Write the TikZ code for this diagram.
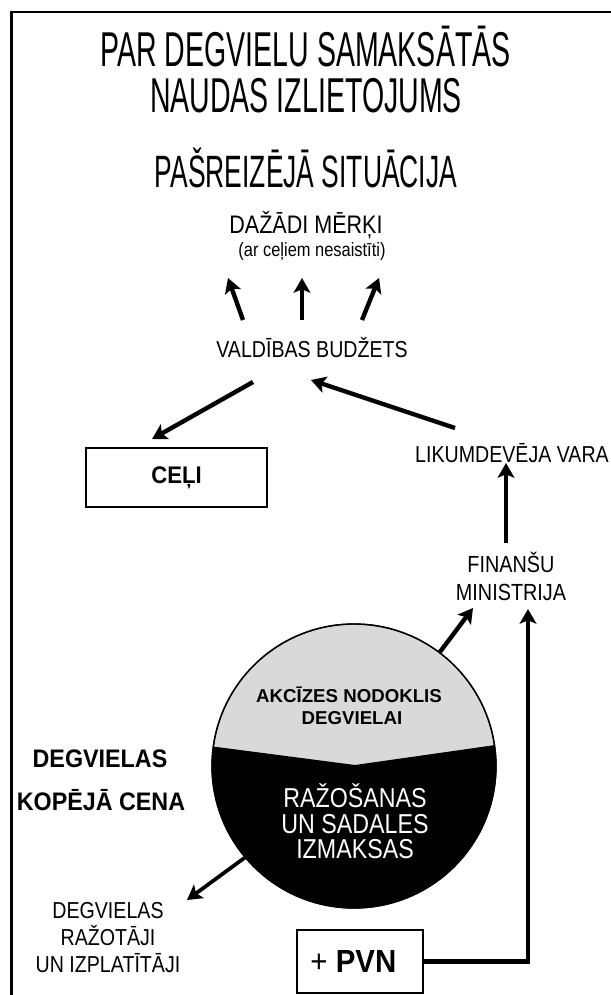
\documentclass[tikz,border=0pt]{standalone}
\usepackage{fontspec}
\setmainfont{Liberation Sans}
\newfontfamily\bodyfont[FakeStretch=0.85]{Liberation Sans}
\newfontfamily\titlefont[FakeStretch=0.583]{Liberation Sans}
\newfontfamily\boldcond[FakeStretch=0.92]{Liberation Sans}
\usetikzlibrary{arrows.meta,calc}
\definecolor{lightfill}{gray}{0.85}
\begin{document}
\begin{tikzpicture}[x=0.75pt,y=-0.75pt,
  arr/.style={-{Stealth[length=11pt,width=12.5pt,inset=2.5pt]}, line width=3.3pt},
  txt/.style={inner sep=0, anchor=base},
  ttl/.style={txt, font=\titlefont\fontsize{36.7pt}{40pt}\selectfont},
  body/.style={txt, font=\bodyfont\fontsize{17.3pt}{20pt}\selectfont},
  bigbody/.style={txt, font=\bodyfont\fontsize{20.5pt}{22pt}\selectfont, text=white},
  boldlbl/.style={txt, font=\boldcond\bfseries\fontsize{19pt}{22pt}\selectfont},
  taxlbl/.style={txt, font=\bfseries\fontsize{14pt}{16pt}\selectfont},
  boxed/.style={draw, line width=1.5pt, inner sep=0}
]
\useasboundingbox (0,0) rectangle (610,995);
% frame
\draw[line width=2.2pt, line join=miter] (11.5,1000) -- (11.5,12) -- (615,12);

% titles
\node[ttl] (t1) at (305.5,67) {PAR DEGVIELU SAMAKSĀTĀS};
\node[ttl] (t2) at (306,113) {NAUDAS IZLIETOJUMS};
\node[ttl, font=\titlefont\fontsize{34pt}{38pt}\selectfont] (t3) at (306,187) {PAŠREIZĒJĀ SITUĀCIJA};

% goals
\node[txt, font=\bodyfont\fontsize{19pt}{22pt}\selectfont] (goals) at (306,233) {DAŽĀDI MĒRĶI};
\node[txt, font=\bodyfont\fontsize{14.5pt}{16pt}\selectfont] (note) at (312,256) {(ar ceļiem nesaistīti)};

% budget
\node[body] (budget) at (312,357) {VALDĪBAS BUDŽETS};

% roads box
\node[boxed, minimum width=135.75pt, minimum height=44.25pt,
      font=\boldcond\bfseries\fontsize{18pt}{20pt}\selectfont] (celi) at (176.5,477.5) {CEĻI};

% legislature, ministry
\node[body] (likum) at (512,462) {LIKUMDEVĒJA VARA};
\node[body, font=\bodyfont\fontsize{17.5pt}{20pt}\selectfont] (fin1) at (511,572) {FINANŠU};
\node[body, font=\bodyfont\fontsize{17.5pt}{20pt}\selectfont] (fin2) at (511,600) {MINISTRIJA};

% price circle
\node[circle, draw, line width=1pt, fill=lightfill, minimum size=213pt, inner sep=0] (price) at (354,766) {};
\begin{scope}
  \clip (price.center) circle[radius=106.5pt];
  \fill[black] (190,743.5) -- (355,765) -- (520,741.5) -- (520,930) -- (190,930) -- cycle;
\end{scope}
\draw[line width=1pt] (price.center) circle[radius=106.5pt];

\node[taxlbl] (tax1) at (349,702) {AKCĪZES NODOKLIS};
\node[taxlbl] (tax2) at (352,724) {DEGVIELAI};
\node[bigbody] (cost1) at (355,807) {RAŽOŠANAS};
\node[bigbody] (cost2) at (355,833) {UN SADALES};
\node[bigbody] (cost3) at (355,858) {IZMAKSAS};

% total price label
\node[boldlbl] (tot1) at (100,767) {DEGVIELAS};
\node[boldlbl] (tot2) at (101,810) {KOPĒJĀ CENA};

% producers
\node[body] (prod1) at (108,918) {DEGVIELAS};
\node[body] (prod2) at (108,945) {RAŽOTĀJI};
\node[body] (prod3) at (108,972) {UN IZPLATĪTĀJI};

% VAT box
\node[boxed, minimum width=94.5pt, minimum height=47.25pt,
      font=\boldcond\fontsize{24pt}{26pt}\selectfont] (pvn) at (360,961.5) {+ \textbf{PVN}\kern10pt};

% arrows
\draw[arr] ($(budget.base)+(-69,-37)$) -- ($(note.base)+(-84,22)$);
\draw[arr] ($(budget.base)+(-10,-37)$) -- ($(note.base)+(-10,22)$);
\draw[arr] ($(budget.base)+(50,-37)$) -- ($(note.base)+(67,22)$);
\draw[arr] ($(budget.base)+(-59,25)$) -- ($(celi.north)+(-24.5,-8)$);
\draw[arr] ($(likum.base)+(-57,-34)$) -- ($(budget.base)+(-1,23)$);
\draw[arr] ($(fin1.base)+(-5,-29)$) -- ($(likum.base)+(-6,1)$);
\draw[arr] (price.53.6) -- ($(fin2.base)+(-38,8)$);
\draw[arr, line width=2.8pt] (price.220) -- ($(prod1.base)+(79,-18)$);
\draw[arr, line join=miter] (pvn.east) -| ($(fin2.base)+(17,9)$);
\end{tikzpicture}
\end{document}
